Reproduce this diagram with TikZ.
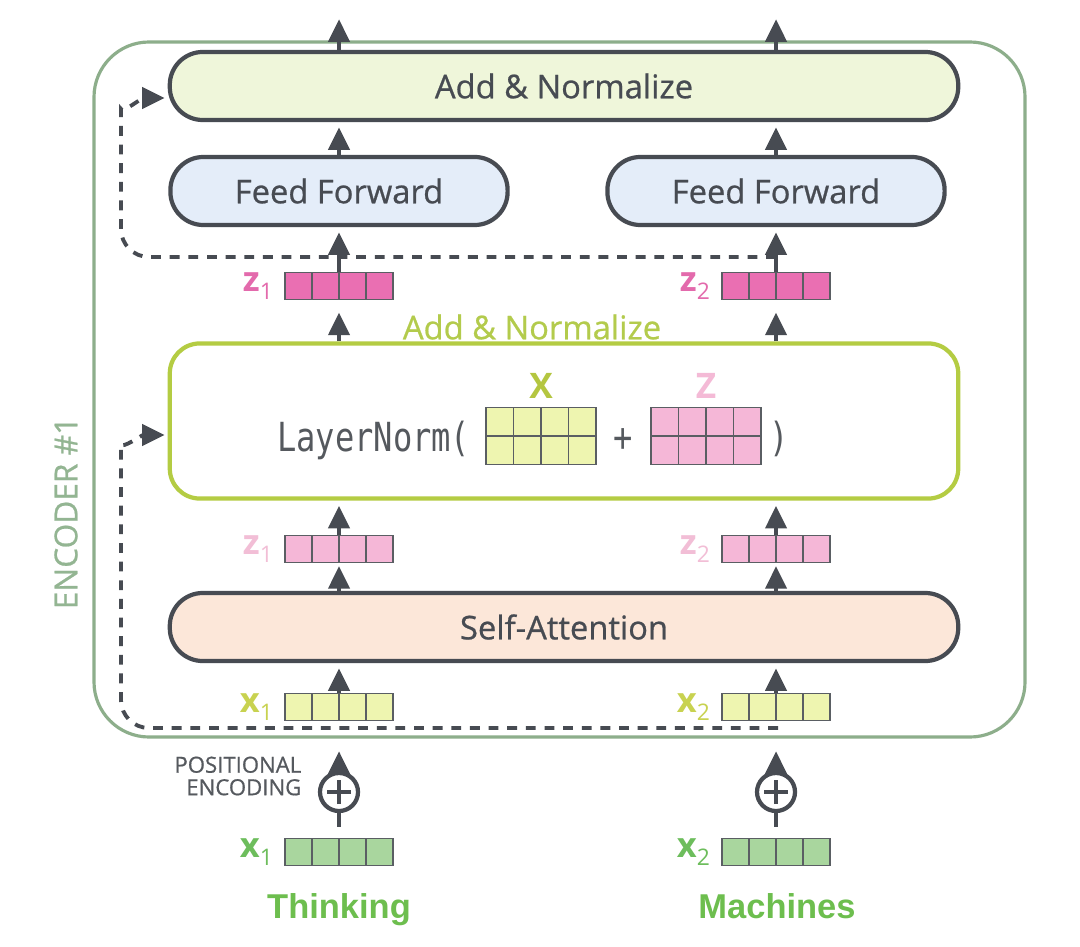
\documentclass[tikz,border=0pt]{standalone}
\usepackage{fontspec}
\setmainfont{Open Sans}
\newfontfamily\blockfam{Open Sans}[FakeBold=0.7]
\newfontfamily\codefont{DejaVu Sans Mono}
\newfontfamily\wordfont{Liberation Sans}
\usetikzlibrary{arrows.meta,calc,positioning}

\definecolor{darkline}{HTML}{474B52}
\definecolor{encline}{HTML}{8DAE8B}
\definecolor{enctext}{HTML}{93B592}
\definecolor{addfill}{HTML}{EFF6DA}
\definecolor{fffill}{HTML}{E4EDF9}
\definecolor{safill}{HTML}{FCE7D9}
\definecolor{lngreen}{HTML}{B4CC43}
\definecolor{lntext}{HTML}{B3CB4C}
\definecolor{xfill}{HTML}{EEF5B0}
\definecolor{xlab}{HTML}{B4C640}
\definecolor{zfill}{HTML}{F5B7D7}
\definecolor{zlab}{HTML}{F4BAD6}
\definecolor{zdark}{HTML}{EA6FB2}
\definecolor{zdarklab}{HTML}{E36AAC}
\definecolor{zlightlab}{HTML}{F2BED6}
\definecolor{xlightlab}{HTML}{C8D250}
\definecolor{xgreen}{HTML}{A9D69E}
\definecolor{xgreenlab}{HTML}{6DBD5C}
\definecolor{wordgreen}{HTML}{6DBE4E}
\definecolor{cellline}{HTML}{5A5E63}
\definecolor{codegray}{HTML}{55595E}

\newcommand{\blockfont}{\blockfam\fontsize{9.3}{11}\selectfont}
\newcommand{\vlab}[2]{\textbf{#1}\raisebox{-0.4ex}{\fontsize{6.5}{7}\selectfont #2}}

\tikzset{block/.style = {draw=darkline, line width=1.2pt, rounded corners=0.33cm, minimum height=0.68cm, text=darkline, font=\blockfont},
         flow/.style = {darkline, line width=1.1pt, shorten >=1.5pt, -{Triangle[width=6pt,length=6.4pt]}},
         resid/.style = {darkline, line width=1.1pt, dash pattern=on 2.8pt off 2.5pt, -{Triangle[width=6pt,length=6.4pt]}},
         vlabel/.style = {inner sep=0pt, font=\fontsize{9.8}{10}\selectfont},
         vecbox/.style = {draw=cellline, line width=0.5pt, minimum width=1.08cm, minimum height=0.27cm, inner sep=0pt,
                         path picture={\foreach \k in {1,2,3}
                           \draw[cellline, line width=0.5pt] ($(path picture bounding box.south west)!\k/4!(path picture bounding box.south east)$) -- ($(path picture bounding box.north west)!\k/4!(path picture bounding box.north east)$);}},
         matbox/.style = {draw=cellline, line width=0.5pt, minimum width=1.1cm, minimum height=0.57cm, inner sep=0pt,
                         path picture={\foreach \k in {1,2,3}
                           \draw[cellline, line width=0.5pt] ($(path picture bounding box.south west)!\k/4!(path picture bounding box.south east)$) -- ($(path picture bounding box.north west)!\k/4!(path picture bounding box.north east)$);
                           \draw[cellline, line width=0.5pt] (path picture bounding box.west) -- (path picture bounding box.east);}},
         pe/.style = {circle, draw=darkline, line width=1.2pt, minimum size=0.38cm, inner sep=0pt,
                         path picture={\draw[darkline, line width=1.2pt] ($(path picture bounding box.center)+(-0.12cm,0pt)$) -- +(0.24cm,0pt)
                           ($(path picture bounding box.center)+(0pt,-0.12cm)$) -- +(0pt,0.24cm);}},
         word/.style = {text=wordgreen, font=\wordfont\bfseries\fontsize{9.8}{11}\selectfont, anchor=base}}

\begin{document}
\begin{tikzpicture}[x=0.01cm, y=-0.01cm]
\useasboundingbox (0,0) rectangle (1080,946);
\fill[white] (0,0) rectangle (1080,946);

% encoder frame
\draw[encline, line width=0.9pt, rounded corners=0.55cm] (94,42) rectangle (1025,737);
\node[rotate=90, text=enctext, font=\blockfam\fontsize{9}{10}\selectfont] (enclabel) at (66,513) {ENCODER \#1};

% feed forward half
\node[block, fill=addfill, minimum width=7.88cm] (addtop) at (564,86) {Add \& Normalize};
\node[block, fill=fffill, minimum width=3.37cm] (ff1) at (339,191) {Feed Forward};
\node[block, fill=fffill, minimum width=3.37cm] (ff2) at (776,191) {Feed Forward};

\node[vecbox, fill=zdark] (zd1) at (339,286) {};
\node[vecbox, fill=zdark] (zd2) at (776,286) {};
\node[vlabel, text=zdarklab, left=3pt of zd1] (zd1lab) {\vlab{z}{1}};
\node[vlabel, text=zdarklab, left=3pt of zd2] (zd2lab) {\vlab{z}{2}};

% add & normalize
\node[draw=lngreen, line width=1.2pt, rounded corners=0.3cm, fill=white, minimum width=7.88cm, minimum height=1.55cm] (ln) at (564,421) {};
\node[text=lntext, font=\blockfont] (lnlab) at (532,327) {Add \& Normalize};
\node[anchor=base east, inner sep=0pt, text=codegray, font=\codefont\fontsize{11.4}{12}\selectfont] (lnfun) at (471,451) {\scalebox{0.8}[1]{LayerNorm(}};
\node[matbox, fill=xfill] (xmat) at (541,436) {};
\node[matbox, fill=zfill] (zmat) at (706,436) {};
\node[text=xlab, font=\bfseries\fontsize{10}{11}\selectfont] (xmatlab) at (541,386) {X};
\node[text=zlab, font=\bfseries\fontsize{10}{11}\selectfont] (zmatlab) at (706,386) {Z};
\node[anchor=base, inner sep=0pt, text=codegray, font=\codefont\fontsize{11.4}{12}\selectfont] (plus) at (623,451) {\scalebox{0.8}[1]{+}};
\node[anchor=base, inner sep=0pt, text=codegray, font=\codefont\fontsize{11.4}{12}\selectfont] (close) at (779,451) {\scalebox{0.8}[1]{)}};

% self-attention half
\node[vecbox, fill=zfill] (zl1) at (339,549) {};
\node[vecbox, fill=zfill] (zl2) at (776,549) {};
\node[vlabel, text=zlightlab, left=3pt of zl1] (zl1lab) {\vlab{z}{1}};
\node[vlabel, text=zlightlab, left=3pt of zl2] (zl2lab) {\vlab{z}{2}};

\node[block, fill=safill, minimum width=7.88cm] (sa) at (564,627) {Self-Attention};

\node[vecbox, fill=xfill] (xl1) at (339,707) {};
\node[vecbox, fill=xfill] (xl2) at (776,707) {};
\node[vlabel, text=xlightlab, left=3pt of xl1] (xl1lab) {\vlab{x}{1}};
\node[vlabel, text=xlightlab, left=3pt of xl2] (xl2lab) {\vlab{x}{2}};

% inputs
\node[pe] (pe1) at (339,792) {};
\node[pe] (pe2) at (776,792) {};
\node[anchor=east, align=right, inner sep=0pt, text=codegray, font=\blockfam\fontsize{6.3}{6.4}\selectfont] (pelab) at (302,776) {POSITIONAL\\ENCODING};

\node[vecbox, fill=xgreen] (xg1) at (339,852) {};
\node[vecbox, fill=xgreen] (xg2) at (776,852) {};
\node[vlabel, text=xgreenlab, left=3pt of xg1] (xg1lab) {\vlab{x}{1}};
\node[vlabel, text=xgreenlab, left=3pt of xg2] (xg2lab) {\vlab{x}{2}};

\node[word] (w1) at (339,918) {Thinking};
\node[word] (w2) at (777,918) {Machines};

\coordinate (out1) at (339,14);
\coordinate (out2) at (776,14);
\coordinate (in1) at (339,746);
\coordinate (in2) at (776,746);
\coordinate (rs1) at (778,728);
\coordinate (rs2) at (776,257);

% residual connections
\draw[resid, rounded corners=0.28cm] (rs1) -| (121,472) to[out=90, in=180] ($(ln.west)+(-3,14)$);
\draw[resid, rounded corners=0.28cm] (rs2) -| (121,137) to[out=90, in=180] ($(addtop.west)+(-3,12)$);

% flow arrows
\draw[flow] (addtop.north -| zd1) -- (out1);
\draw[flow] (addtop.north -| zd2) -- (out2);
\draw[flow] (ff1.north) -- (ff1.north |- addtop.south);
\draw[flow] (ff2.north) -- (ff2.north |- addtop.south);
\draw[flow] (zd1.north) -- (ff1.south);
\draw[flow] (zd2.north) -- (ff2.south);
\draw[flow, shorten >=3.5pt] (ln.north -| zd1) -- (zd1.south);
\draw[flow, shorten >=3.5pt] (ln.north -| zd2) -- (zd2.south);
\draw[flow] (zl1.north) -- (ln.south -| zl1);
\draw[flow] (zl2.north) -- (ln.south -| zl2);
\draw[flow, shorten >=0.8pt] (sa.north -| zl1) -- (zl1.south);
\draw[flow, shorten >=0.8pt] (sa.north -| zl2) -- (zl2.south);
\draw[flow] (xl1.north) -- (sa.south -| xl1);
\draw[flow] (xl2.north) -- (sa.south -| xl2);
\draw[flow] (pe1.north) -- (in1);
\draw[flow] (pe2.north) -- (in2);
\draw[darkline, line width=1.2pt] ($(xg1.north)+(0,-11)$) -- (pe1.south);
\draw[darkline, line width=1.2pt] ($(xg2.north)+(0,-11)$) -- (pe2.south);
\end{tikzpicture}
\end{document}
